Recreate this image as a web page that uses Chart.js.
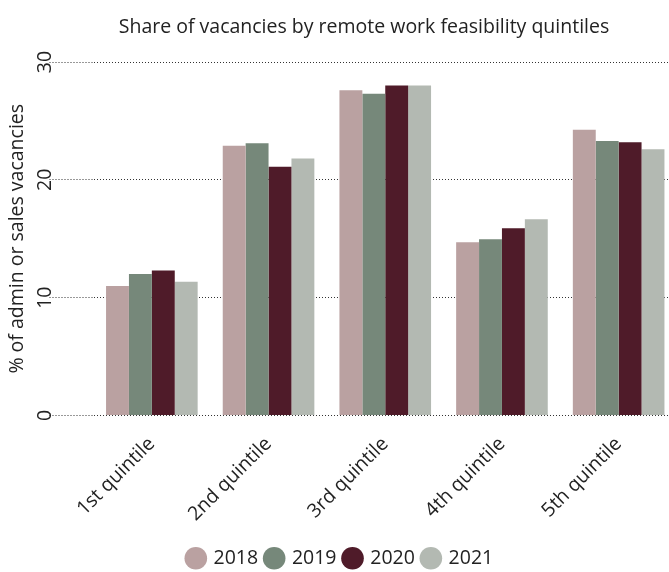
<!DOCTYPE html>
<html lang="en">
<head>
    <meta charset="UTF-8">
    <title>Share of vacancies by remote work feasibility quintiles</title>
    <script src="https://cdn.jsdelivr.net/npm/chart.js"></script>
    <style>
        body { margin: 0; padding: 0; overflow: hidden; background: #fff; }
        #wrap { position: relative; width: 677px; height: 572px; overflow: hidden; }
        #title {
            position: absolute;
            top: 12px;
            left: 0;
            width: 728px;
            text-align: center;
            font: 19.5px "Open Sans", sans-serif;
            color: #222;
        }
    </style>
</head>
<body>

<div id="wrap">
    <canvas id="vacancyChart" width="677" height="578"></canvas>
    <div id="title">Share of vacancies by remote work feasibility quintiles</div>
</div>

<script>
    // Quintiles and share of admin/sales vacancies per year (%)
    const quintiles = ['1st quintile', '2nd quintile', '3rd quintile', '4th quintile', '5th quintile'];
    const years = ['2018', '2019', '2020', '2021'];
    const share2018 = [11.0, 22.9, 27.6, 14.7, 24.25];
    const share2019 = [12.0, 23.1, 27.3, 14.95, 23.3];
    const share2020 = [12.3, 21.1, 28.0, 15.9, 23.2];
    const share2021 = [11.35, 21.8, 28.0, 16.65, 22.6];
    const yTicks = [0, 10, 20, 30];

    const colours = ['#baa1a1', '#76887a', '#4f1b29', '#b3b9b2'];
    const FONT = '"Open Sans", sans-serif';
    const SIZE = 19.5;

    // y tick labels are drawn standing on their side
    const sideTickLabels = {
        id: 'sideTickLabels',
        afterDraw(chart) {
            const ctx = chart.ctx;
            const y = chart.scales.y;
            ctx.save();
            ctx.font = SIZE + 'px ' + FONT;
            ctx.fillStyle = '#222';
            ctx.textAlign = 'center';
            ctx.textBaseline = 'middle';
            y.ticks.forEach(t => {
                ctx.save();
                ctx.translate(45, y.getPixelForValue(t.value));
                ctx.rotate(-Math.PI / 2);
                ctx.fillText(String(t.value), 0, 0);
                ctx.restore();
            });
            ctx.restore();
        }
    };

    const series = [share2018, share2019, share2020, share2021];

    new Chart(document.getElementById('vacancyChart'), {
        type: 'bar',
        data: {
            labels: quintiles,
            datasets: years.map((yr, i) => ({
                label: yr,
                data: series[i],
                backgroundColor: colours[i],
                borderWidth: 0,
                categoryPercentage: 0.785,
                barPercentage: 1.0
            }))
        },
        options: {
            responsive: false,
            animation: false,
            layout: { padding: { top: 62, left: 4, right: 0, bottom: 0 } },
            plugins: {
                title: { display: false },
                tooltip: { enabled: false },
                legend: {
                    position: 'bottom',
                    labels: {
                        usePointStyle: true,
                        pointStyle: 'circle',
                        boxWidth: 16,
                        boxHeight: 16,
                        padding: 8,
                        color: '#222',
                        font: { family: FONT, size: SIZE }
                    }
                }
            },
            scales: {
                x: {
                    grid: { display: false },
                    border: { display: false },
                    ticks: {
                        minRotation: 45,
                        maxRotation: 45,
                        padding: 9,
                        color: '#222',
                        font: { family: FONT, size: SIZE }
                    },
                    afterFit(scale) { scale.height = 125; }
                },
                y: {
                    min: 0,
                    max: 30,
                    afterBuildTicks(scale) { scale.ticks = yTicks.map(v => ({ value: v })); },
                    grid: {
                        color: '#333',
                        lineWidth: 1,
                        tickLength: 44,
                        tickColor: '#333',
                        tickBorderDash: [1, 2]
                    },
                    border: { display: false, dash: [1, 2] },
                    ticks: { display: false },
                    title: {
                        display: true,
                        text: '% of admin or sales vacancies',
                        color: '#222',
                        font: { family: FONT, size: SIZE },
                        padding: { top: 2, bottom: 0 }
                    },
                    afterFit(scale) { scale.width = 89.5; }
                }
            }
        },
        plugins: [sideTickLabels]
    });
</script>

</body>
</html>
